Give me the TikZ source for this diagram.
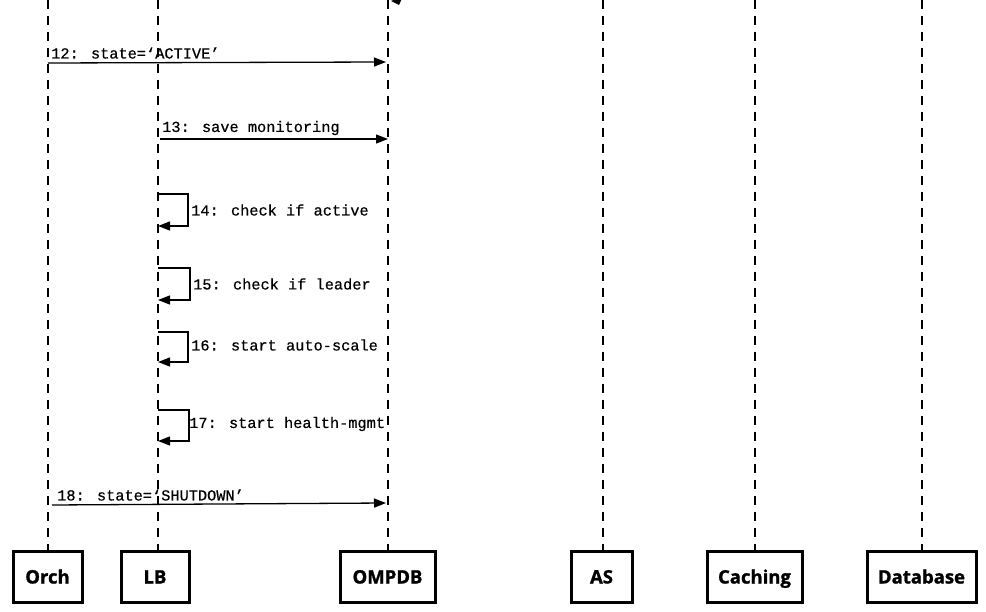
\documentclass[tikz,border=0pt]{standalone}
\usepackage{fontspec}
\newfontfamily\boxfont{Open Sans}[BoldFeatures={FakeBold=1.3}]
\newfontfamily\msgfont{Liberation Mono}[FakeBold=0.5]
\usetikzlibrary{arrows.meta}
\tikzset{
  actor/.style={draw, line width=3pt, minimum width=#1, minimum height=51pt, inner sep=0pt,
    text height=15pt, text depth=2pt,
    font=\boxfont\bfseries\fontsize{18.5}{21}\selectfont},
  life/.style={line width=2.4pt, dash pattern=on 9pt off 7pt},
  msg/.style={line width=1.3pt, -{Triangle[length=12pt,width=9pt]}},
  lbl/.style={font=\msgfont\fontsize{15.3}{17}\selectfont, inner sep=0pt, anchor=west}
}
\begin{document}
\begin{tikzpicture}[x=1pt,y=-1pt]
\useasboundingbox (0,0) rectangle (986,612);
% actor boxes
\node[actor=69pt]  (orch)  at (47.5,577)  {Orch};
\node[actor=68pt]  (lb)    at (155,577)   {LB};
\node[actor=95pt]  (ompdb) at (387.5,577) {OMPDB};
\node[actor=61pt]  (as)    at (601.5,577) {AS};
\node[actor=95pt]  (cach)  at (754.5,577) {Caching};
\node[actor=109pt] (db)    at (921.5,577) {Database};
% lifeline tops
\coordinate (orchT)  at (48,0);
\coordinate (lbT)    at (158,0);
\coordinate (ompdbT) at (388,0);
\coordinate (asT)    at (603,0);
\coordinate (cachT)  at (755,0);
\coordinate (dbT)    at (922,0);
\draw[life] (orchT) -- (orchT |- orch.north);
\draw[life] (lbT) -- (lbT |- lb.north);
\draw[life] (ompdbT) -- (ompdbT |- ompdb.north);
\draw[life] (asT) -- (asT |- as.north);
\draw[life] (cachT) -- (cachT |- cach.north);
\draw[life] (dbT) -- (dbT |- db.north);
% partial arrowhead at the top
\begin{scope}
\clip (380,0) rectangle (420,6);
\fill (391,1) -- (403,-4) -- (399,5) -- cycle;
\end{scope}
% message 12
\coordinate (m12a) at (48,63);
\coordinate (m12b) at (386,62);
\draw[msg] (m12a) -- (m12b);
\node[lbl] (l12) at (51,53) {12: state=‘ACTIVE’};
% message 13
\coordinate (m13a) at (160,139);
\coordinate (m13b) at (388,139);
\draw[msg] (m13a) -- (m13b);
\node[lbl] (l13) at (162,128) {13: save monitoring};
% self messages
\coordinate (s14) at (158,194);
\draw[msg] (s14) -- ++(30,0) -- ++(0,32) -- ++(-30,0);
\node[lbl] (l14) at (191,210) {14: check if active};
\coordinate (s15) at (158,268);
\draw[msg] (s15) -- ++(32,0) -- ++(0,32) -- ++(-32,0);
\node[lbl] (l15) at (193,284) {15: check if leader};
\coordinate (s16) at (158,332);
\draw[msg] (s16) -- ++(30,0) -- ++(0,30) -- ++(-30,0);
\node[lbl] (l16) at (191,345) {16: start auto-scale};
\coordinate (s17) at (158,410);
\draw[msg] (s17) -- ++(31,0) -- ++(0,31) -- ++(-31,0);
\node[lbl] (l17) at (189,424) {17: start health-mgmt};
% message 18
\coordinate (m18a) at (52,505);
\coordinate (m18b) at (386,503);
\draw[msg] (m18a) -- (m18b);
\node[lbl] (l18) at (57,495) {18: state=‘SHUTDOWN’};
\end{tikzpicture}
\end{document}
